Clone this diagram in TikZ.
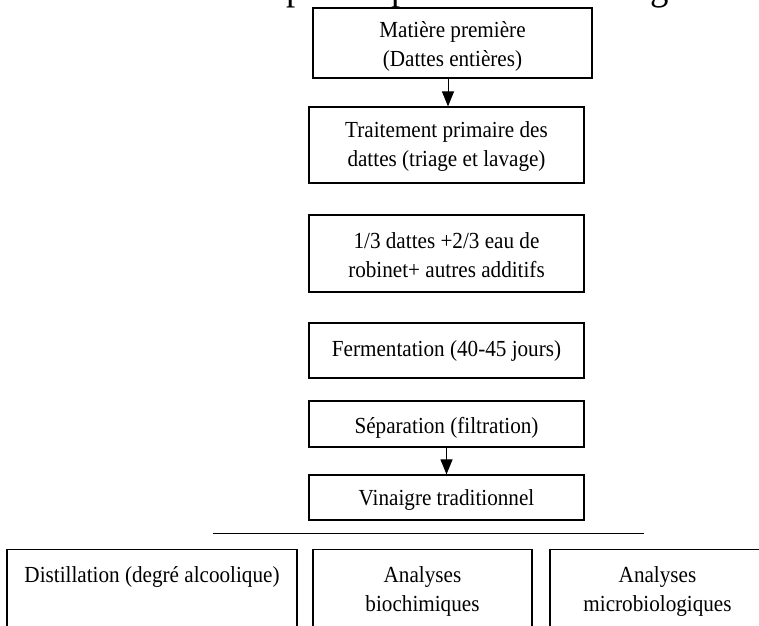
\documentclass[tikz,border=0pt]{standalone}
\usepackage{fontspec}
\setmainfont{Liberation Serif}[FakeStretch=0.92]
\usetikzlibrary{arrows.meta}

\tikzset{
  etape/.style={draw, line width=1.2pt, align=center, inner sep=0pt, text depth=0pt,
    minimum width=275pt, font=\fontsize{23}{29}\selectfont},
  fleche/.style={line width=1pt, -{Triangle[length=15pt,width=12pt]}},
  titre/.style={anchor=base west, inner sep=0pt, font=\fontsize{40}{48}\selectfont},
}

\begin{document}
\begin{tikzpicture}[x=1pt,y=-1pt]
\useasboundingbox (0,0) rectangle (759,625);
\clip (0,0) rectangle (759,625);

% bas du titre, coupe par le cadre
\node[titre] (t1) at (286,-1) {p};
\node[titre] (t2) at (391,-1) {p};
\node[titre] (t3) at (650,-1) {g};

% etapes
\node[etape, minimum width=279pt, minimum height=70pt, text height=47pt] (mp) at (452.5,43) {Matière première\\(Dattes entières)};
\node[etape, minimum height=76pt, text height=42pt] (tp) at (446.5,145) {Traitement primaire des\\dattes (triage et lavage)};
\node[etape, minimum height=77pt, text height=47pt] (mel) at (446.5,253.5) {1/3 dattes +2/3 eau de\\robinet+ autres additifs};
\node[etape, minimum height=55pt, text height=12pt] (ferm) at (446.5,350.5) {Fermentation (40-45 jours)};
\node[etape, minimum height=46pt, text height=19pt] (sep) at (446.5,424) {Séparation (filtration)};
\node[etape, minimum height=45pt, text height=15pt] (vin) at (446.5,497.5) {Vinaigre traditionnel};

\draw[fleche] ([xshift=1.5pt]tp.north |- mp.south) -- ([xshift=1.5pt]tp.north);
\draw[fleche] (sep.south) -- (vin.north);

% trait de separation
\coordinate (g) at (213,533.5);
\coordinate (d) at (644,533.5);
\draw[line width=1pt] (g) -- (d);

% analyses
\node[etape, anchor=north, minimum width=290pt, text height=33pt, text depth=80pt] (dist) at (152,549) {Distillation (degré alcoolique)};
\node[etape, anchor=north, minimum width=219pt, text height=62pt, text depth=50pt] (bio) at (422.5,549) {Analyses\\biochimiques};
\node[etape, anchor=north, minimum width=215pt, text height=62pt, text depth=50pt] (micro) at (657.5,549) {Analyses\\microbiologiques};
\end{tikzpicture}
\end{document}
